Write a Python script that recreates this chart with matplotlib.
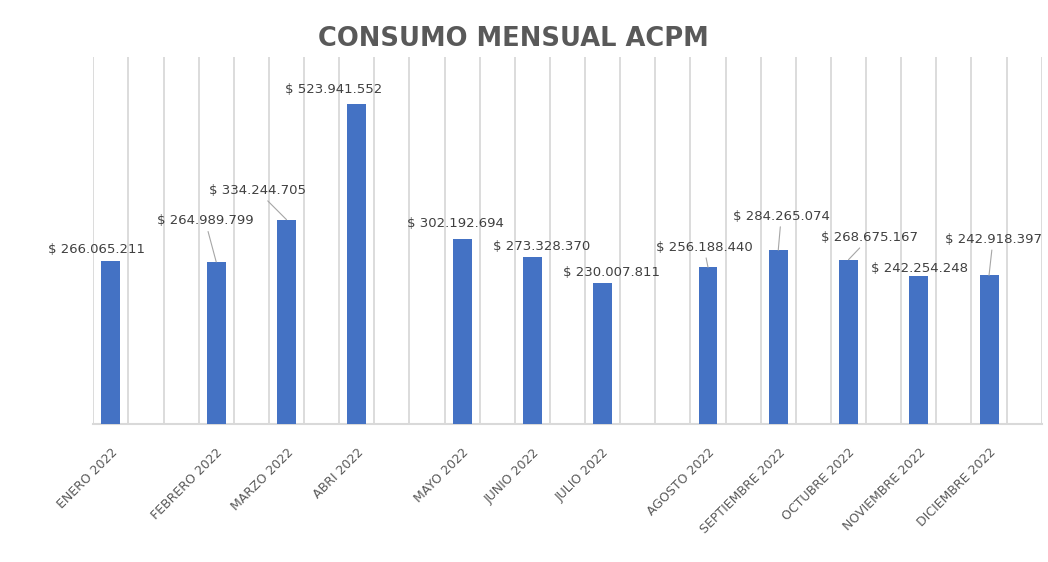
import matplotlib
matplotlib.use("Agg")
import matplotlib.pyplot as plt

# categorias del eje (las vacias son huecos del eje de fechas)
meses = ["ENERO 2022", "", "", "FEBRERO 2022", "", "MARZO 2022", "", "ABRI 2022",
         "", "", "MAYO 2022", "", "JUNIO 2022", "", "JULIO 2022", "", "",
         "AGOSTO 2022", "", "SEPTIEMBRE 2022", "", "OCTUBRE 2022", "",
         "NOVIEMBRE 2022", "", "DICIEMBRE 2022", ""]
consumo = [266065211, None, None, 264989799, None, 334244705, None, 523941552,
           None, None, 302192694, None, 273328370, None, 230007811, None, None,
           256188440, None, 284265074, None, 268675167, None,
           242254248, None, 242918397, None]

# desplazamiento de cada etiqueta respecto a la barra (pixeles) y si lleva linea guia
desp = [(-14, 12), (-11, 41), (-29, 29), (-23, 14), (-7, 16), (9, 10),
        (9, 11), (-4, 20), (3, 34), (21, 22), (1, 7), (4, 36)]
guia = [False, True, True, False, False, False, False, True, True, True, False, True]

gris = "#595959"
gris_claro = "#d9d9d9"
azul = "#4472c4"

fig = plt.figure(figsize=(10.48, 5.62), dpi=100)
ax = fig.add_axes([0.089, 0.246, 0.905, 0.652])

xs = [i for i, v in enumerate(consumo) if v is not None]
vals = [v for v in consumo if v is not None]
ax.bar(xs, vals, width=0.54, color=azul, zorder=3)

ax.set_xlim(-0.5, len(meses) - 0.5)
ax.set_ylim(0, 600000000)

# lineas verticales entre categorias
for b in range(len(meses) + 1):
    ax.axvline(b - 0.5, color=gris_claro, lw=1.3, zorder=1)

ax.set_yticks([])
ax.set_xticks(xs)
ax.set_xticklabels([meses[i] for i in xs], rotation=45, ha="right",
                   rotation_mode="anchor", fontsize=9, color=gris)
ax.tick_params(axis="x", length=0, pad=16)
for s in ["top", "right", "left"]:
    ax.spines[s].set_visible(False)
ax.spines["bottom"].set_color(gris_claro)
ax.spines["bottom"].set_linewidth(1.5)

for k, (x, v) in enumerate(zip(xs, vals)):
    txt = "$ " + f"{v:,}".replace(",", ".")
    props = dict(arrowstyle="-", color="#a6a6a6", lw=0.8, shrinkA=1, shrinkB=0) if guia[k] else None
    ax.annotate(txt, xy=(x, v), xytext=desp[k], textcoords="offset pixels",
                ha="center", va="center", fontsize=9.5, color="#404040",
                arrowprops=props, zorder=4)

fig.text(0.490, 0.93, "CONSUMO MENSUAL ACPM", ha="center", va="center",
         fontsize=18.5, fontweight="bold", color=gris)

fig.savefig("out.png", dpi=100)
